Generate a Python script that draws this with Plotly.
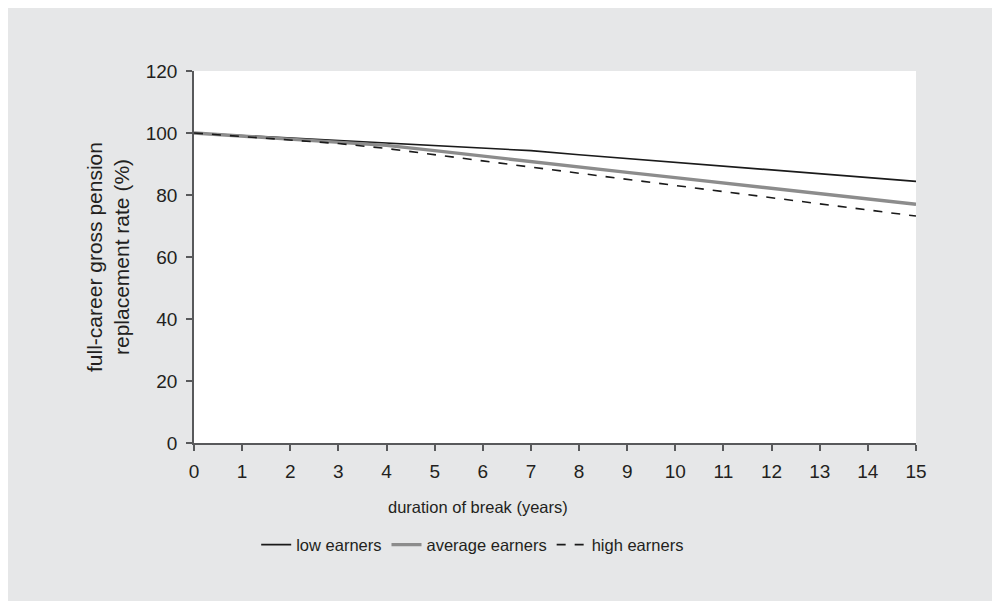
import plotly.graph_objects as go

# duration of career break (years)
years = list(range(0, 16))

# full-career gross pension replacement rate (%)
low_earners = [100, 99.2, 98.4, 97.6, 96.8, 96.1, 95.3, 94.3, 93.0, 91.8,
               90.6, 89.3, 88.1, 86.9, 85.6, 84.4]
average_earners = [100, 99.0, 98.0, 97.0, 96.0, 94.3, 92.5, 90.8, 89.1, 87.3,
                   85.6, 83.9, 82.1, 80.4, 78.7, 77.0]
high_earners = [100, 98.9, 97.8, 96.6, 95.0, 92.9, 91.0, 89.0, 87.0, 85.0,
                83.0, 81.0, 79.0, 77.1, 75.1, 73.2]

x_ticks = list(range(0, 16))
y_ticks = [0, 20, 40, 60, 80, 100, 120]

font_family = "Arial, Liberation Sans, Helvetica, sans-serif"
text_color = "#231f20"
axis_color = "#58595b"

fig = go.Figure()

fig.add_trace(go.Scatter(
    x=years, y=low_earners, mode="lines", name="low earners",
    line=dict(color="#1a1a1a", width=1.6)
))
fig.add_trace(go.Scatter(
    x=years, y=average_earners, mode="lines", name="average earners",
    line=dict(color="#8c8c8c", width=3.4)
))
fig.add_trace(go.Scatter(
    x=years, y=high_earners, mode="lines", name="high earners",
    line=dict(color="#1a1a1a", width=1.6, dash="dash")
))

# x-axis title sits left of the plot centre in the original
fig.add_annotation(
    text="duration of break (years)", xref="paper", yref="paper",
    x=0.393, y=-0.172, xanchor="center", yanchor="middle",
    showarrow=False, font=dict(family=font_family, size=16.5, color=text_color)
)

fig.update_layout(
    width=1000, height=601,
    margin=dict(l=186, r=92, t=63, b=166),
    paper_bgcolor="#e6e7e8",
    plot_bgcolor="white",
    font=dict(family=font_family, size=19, color=text_color),
    showlegend=True,
    legend=dict(
        orientation="h", x=0.386, xanchor="center",
        y=-0.274, yanchor="middle",
        bgcolor="rgba(0,0,0,0)",
        font=dict(family=font_family, size=16.5, color=text_color),
        itemwidth=30, tracegroupgap=0,
    ),
)

fig.update_xaxes(
    range=[0, 15], tickvals=x_ticks, ticktext=[str(v) for v in x_ticks],
    showgrid=False, zeroline=False,
    showline=True, linecolor=axis_color, linewidth=1.5,
    ticks="outside", ticklen=6, tickwidth=1.5, tickcolor=axis_color,
    ticklabelstandoff=4,
    tickfont=dict(family=font_family, size=19, color=text_color),
)
fig.update_yaxes(
    range=[0, 120], tickvals=y_ticks, ticktext=[str(v) for v in y_ticks],
    showgrid=False, zeroline=False,
    showline=True, linecolor=axis_color, linewidth=1.5,
    ticks="outside", ticklen=6, tickwidth=1.5, tickcolor=axis_color,
    ticklabelstandoff=5,
    tickfont=dict(family=font_family, size=19, color=text_color),
    title=dict(text="full-career gross pension<br>replacement rate (%)",
               standoff=10, font=dict(family=font_family, size=21, color=text_color)),
)

fig.write_html("out.html")
